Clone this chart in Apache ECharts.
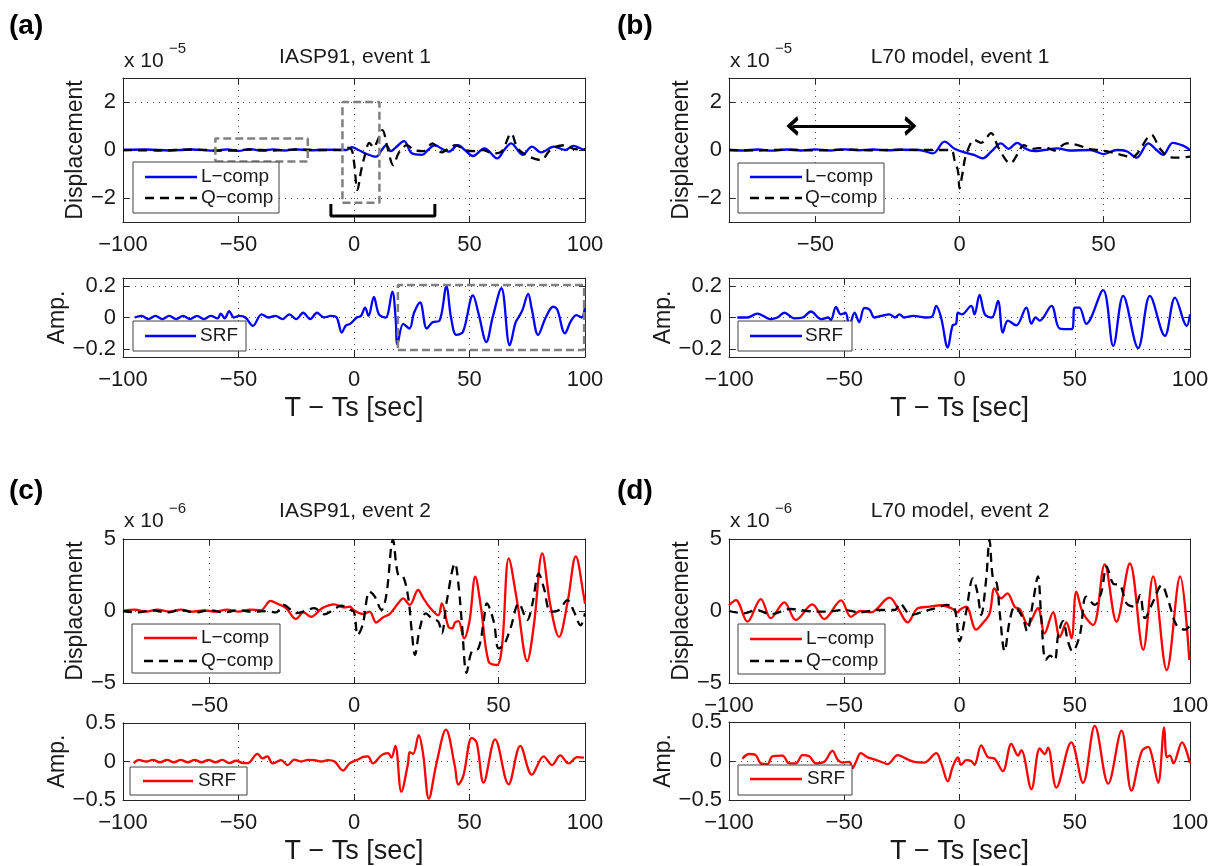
<!DOCTYPE html>
<html>
<head>
<meta charset="utf-8">
<title>SRF waveforms</title>
<script src="https://cdn.jsdelivr.net/npm/echarts@6/dist/echarts.min.js"></script>
<style>
  html, body { margin: 0; padding: 0; background: #fff; }
  #chart { width: 1218px; height: 866px; }
</style>
</head>
<body>
<div id="chart"></div>
<script>
// ---- data: [T - Ts (sec), value] ----
// event 1, displacement in units of 1e-5
const aL = [[-100,0],[-90,0.02],[-80,-0.02],[-70,0.02],[-60,-0.03],[-55,0.03],[-50,-0.04],[-45,0.04],[-40,-0.03],[-35,0.03],[-30,-0.02],[-25,0.03],[-20,-0.01],[-10,0.01],[-3.4,0],[-1,0.12],[2,0],[5,-0.15],[9.6,-0.28],[12,0],[14,0.2],[16,-0.05],[18,0.1],[21.7,0.37],[25,-0.14],[29.5,-0.2],[32,0],[35,0.2],[38,0.05],[41,-0.07],[45,0.2],[48,0],[51.5,-0.25],[56.5,0.07],[62,-0.35],[65,0],[68,0.28],[73,-0.2],[77,0.14],[81,-0.1],[86.5,0.14],[91.5,0],[95,0.17],[99,0.03],[100,0.02]];
const aQ = [[-100,0],[-85,-0.02],[-70,0.02],[-55,-0.03],[-45,0.02],[-35,-0.02],[-25,0.02],[-15,0],[-5,0],[-3,0.1],[-1,0],[0,-0.5],[1.5,-1.67],[3,-0.9],[4.5,-0.3],[6.7,0.3],[8.5,0.1],[10,0.35],[12.3,0.83],[14.5,0.1],[17,-0.63],[19.5,-0.1],[23,0.2],[26,0],[30,-0.05],[34,0.28],[38,-0.1],[40,0],[44,0.2],[48,0],[52,-0.05],[56,0],[60,-0.14],[64,-0.05],[68,0.69],[71,0.05],[76,-0.28],[81,-0.42],[84.5,-0.05],[87.5,0.14],[91.7,0.2],[95,0.05],[100,0.02]];
const aSRF = [[-95,0],[-92,0.01],[-89,-0.01],[-86,0.01],[-83,-0.01],[-80,0.01],[-77,-0.01],[-74,0.01],[-71,-0.01],[-68,0.01],[-65,-0.01],[-62,0.01],[-59,-0.005],[-57.7,0.025],[-56,-0.005],[-54,0.04],[-52,0],[-49.7,0.01],[-47,0],[-43.8,-0.053],[-40,0.02],[-37,0],[-34,0.01],[-31,-0.01],[-28,0.02],[-25,-0.01],[-22,0.03],[-19,-0.01],[-16,0.03],[-13,0],[-10,0.01],[-7.5,0],[-5.3,-0.095],[-3.5,-0.05],[-1.7,-0.04],[1.2,0],[3,0.01],[4.8,0.063],[6.3,0.01],[8.6,0.13],[10.8,0.02],[13.7,0],[16.6,0.164],[18,0],[18.8,-0.17],[21.3,-0.04],[24,-0.07],[26,0.03],[28.6,0.095],[31.5,-0.07],[34,-0.03],[37,-0.02],[40,0.195],[42,0],[44.3,-0.11],[47.2,-0.09],[51.5,0.14],[54,0.02],[57.3,-0.155],[60,0],[63.8,0.185],[67.4,-0.176],[70,-0.03],[71.8,0.015],[73,0.05],[75.4,0.15],[77,0.05],[79.7,-0.11],[83,0],[86.2,0.068],[88,0.05],[91.3,-0.1],[94,-0.02],[96.3,0.015],[98.5,0],[100,0.07]];
const bL = [[-80,0],[-75,-0.02],[-70,0.02],[-65,-0.03],[-60,0.02],[-55,-0.02],[-50,0.03],[-45,-0.02],[-40,0.03],[-35,-0.01],[-30,0.02],[-25,-0.01],[-20,0.01],[-14,0],[-9.2,-0.14],[-5.2,0.35],[-1.7,0.05],[1.7,-0.1],[5,-0.2],[8,-0.35],[11,-0.07],[14.4,0.28],[17,0.05],[20,0.3],[23,0.05],[26,-0.05],[29.3,0],[34,0.07],[38,-0.02],[45.4,0],[50,-0.17],[54.6,0],[58,-0.05],[61.5,-0.32],[65.5,0.28],[68.4,0],[70.7,-0.2],[74,0.3],[77.6,0.18],[80,0]];
const bQ = [[-80,0],[-70,-0.02],[-60,0.02],[-50,-0.02],[-40,0.02],[-30,-0.01],[-20,0.01],[-10,0],[-3,0],[-1.7,-0.42],[-0.5,-0.9],[0,-1.6],[1,-1],[2.3,-0.2],[5.2,0.42],[7.5,0.3],[11,0.7],[13.5,0.1],[17.7,-0.56],[20,-0.2],[22.4,0.2],[25,0.05],[30,0.1],[33,-0.02],[37.2,0.28],[41,0.2],[45,0.05],[48,0],[52,-0.08],[56,-0.2],[60,-0.3],[62,-0.1],[66.6,0.63],[69.6,0.05],[73,-0.3],[75.9,-0.32],[80,-0.28]];
const bSRF = [[-96.4,0],[-92,0],[-87.7,0.025],[-82,-0.01],[-79,0],[-76,0.03],[-71.7,-0.005],[-68,0],[-64.5,0.038],[-60,-0.01],[-57,0],[-55.8,-0.017],[-53.6,0.067],[-51.5,0.02],[-49.5,0.03],[-47.8,-0.05],[-45.5,0.03],[-43.5,-0.03],[-41.3,0.06],[-39,0.05],[-37,0],[-34,0.01],[-30.4,0.02],[-28,0],[-26,0.02],[-24,0],[-20,0.01],[-15,0],[-12,0.005],[-10.1,0.074],[-8,0],[-5.1,-0.19],[-3,-0.05],[-1.5,-0.04],[-0.7,0.03],[1,0.02],[5.1,0.074],[6.5,0.02],[8.7,0.143],[11,0.02],[14,0],[16.7,0.105],[18.8,-0.095],[21,-0.02],[24.6,-0.05],[29,0.063],[31.2,-0.04],[33,0],[34.8,-0.02],[39.9,0.074],[43.5,-0.07],[48.6,-0.074],[50,0.063],[52,0.063],[55,-0.04],[62.3,0.173],[66.7,-0.18],[71,0.137],[77.5,-0.194],[82.6,0.137],[89.1,-0.116],[93.5,0.126],[98.6,-0.053],[100,0.02]];
// event 2, displacement in units of 1e-6
const cL = [[-80,0],[-76,0.1],[-72,-0.05],[-68,0.1],[-64,-0.05],[-60,0.1],[-56,-0.05],[-52,0.05],[-48,-0.05],[-44,0.1],[-40,-0.05],[-36,0.1],[-32.3,0.05],[-28.9,0.7],[-26.5,0.5],[-23.5,0.2],[-20.1,-0.55],[-17.5,-0.1],[-14.9,-0.4],[-11,0.2],[-6.8,0.46],[-3.5,0.25],[-1.5,0.3],[0,0.05],[3.1,-0.2],[5.4,-0.05],[7.7,-0.8],[10,-0.45],[12.4,-0.2],[15.3,0.53],[17,0.88],[19.3,0.42],[22.2,1.46],[24,0.9],[26.3,0.23],[29.2,-0.3],[30.4,0.53],[32.7,-1.1],[34,-1.2],[35,-0.8],[36.2,-0.7],[38.1,-1.9],[40,-0.7],[42,2.38],[44,0.2],[46.6,-3.5],[49.5,-3.75],[51.3,-2.36],[53.6,3.66],[56.5,0.65],[60,-3.47],[62.3,-0.97],[65.2,4],[68,0.4],[71,-1.8],[74,0.65],[76.8,3.8],[79.7,0.9],[80,0.5]];
const cQ = [[-80,0],[-75,-0.1],[-70,0.05],[-65,-0.1],[-60,0.05],[-55,-0.1],[-50,0.05],[-45,-0.1],[-40,0.05],[-35,-0.05],[-30,0],[-27,-0.1],[-24.4,0.42],[-20,-0.15],[-17,0],[-13.8,0.2],[-10.3,-0.23],[-7,0.1],[-4.5,0.37],[-1.5,0.1],[0,-0.07],[1.3,-1.67],[3,-0.97],[5.4,1.35],[7.2,1],[9.5,0.07],[11.2,1.1],[13.5,4.93],[15.3,2.5],[17,2.4],[18.8,0.9],[20,-1.4],[21.1,-3.05],[22.8,-1.2],[24.9,-0.16],[26.9,-0.5],[29.2,-0.74],[30.4,-1.55],[32.1,0.65],[35,3.3],[36.2,1.8],[37.4,-0.97],[39,-4.3],[40.8,-2.8],[43.1,-2.6],[44.9,-0.74],[46,0.53],[48.4,-0.74],[50.1,-2.6],[51.9,-2.36],[54.2,-1.2],[57.1,0.53],[60,-0.63],[61.7,0.42],[64,2.6],[65.8,1.57],[68.1,-0.05],[71,0.07],[73.9,0.76],[76.2,-0.05],[78.5,-1],[80,-0.16]];
const cSRF = [[-95.4,-0.02],[-93,0.02],[-90,0],[-87,0.02],[-84,-0.01],[-81,0.02],[-78,-0.01],[-75,0.02],[-72,-0.01],[-69,0.02],[-66,-0.01],[-63,0.02],[-60,-0.01],[-57,0.02],[-54,-0.02],[-51,0.01],[-48,-0.02],[-46,-0.02],[-41.8,0.1],[-39.6,0.04],[-37.5,0.067],[-35.3,-0.025],[-31.6,0.017],[-28.7,-0.046],[-25.8,0.025],[-22.9,0],[-20,0.02],[-17.1,0.017],[-14.2,0],[-11.3,0.017],[-8.4,0],[-4.8,-0.117],[-1.9,-0.025],[1.7,0.025],[3.9,0.06],[6,0.067],[8.2,-0.025],[11.8,0.079],[14.7,0.108],[16.2,0.05],[17.9,0.204],[20.5,-0.392],[23.4,-0.025],[24.1,0.12],[25.6,0.1],[28,0.342],[29.9,0.1],[32.4,-0.483],[35.7,-0.025],[39.8,0.413],[43.7,-0.067],[45.1,-0.3],[47.3,-0.19],[51,0.308],[53.1,0.246],[56.1,-0.275],[61.1,0.288],[66.9,-0.296],[72,0.204],[77,-0.171],[82.1,0.067],[85.7,-0.046],[89.3,0.079],[92.9,-0.025],[96.6,0.058],[99.5,0.05]];
const dL = [[-100,0.4],[-97,0.76],[-92,-0.74],[-86.2,0.83],[-81.9,-0.5],[-76,0.6],[-71,-0.62],[-63.8,0.46],[-58.7,-0.56],[-51.4,0.74],[-47.1,-0.4],[-43,0],[-38.4,-0.1],[-30.4,0.93],[-26.7,0.19],[-22.5,-0.79],[-18.1,0.19],[-13,0.3],[-8,0.4],[-3.5,0.19],[-0.7,-0.1],[0,0.07],[2.9,0.3],[7.2,-1.3],[10,-0.86],[13,-0.2],[15.2,1.57],[18,0.88],[20.8,1.23],[23.9,0.3],[26.1,0.14],[29.7,-0.93],[34,0.19],[36.9,-1.55],[40.6,-0.09],[43.5,-1.8],[46.4,-0.8],[48.6,-1.9],[50.7,1.34],[53.6,-0.16],[58,-0.97],[63,3.24],[68.1,-0.74],[73.9,3.3],[79.7,-2.7],[84,2.4],[89.9,-4.1],[95.7,2.4],[99.7,-3.4]];
const dQ = [[-100,0],[-93.5,-0.16],[-88,0.07],[-82,-0.23],[-73.2,0.14],[-66,0],[-58,-0.05],[-50,0.07],[-43,-0.1],[-36,0.07],[-28,0.07],[-26,0.53],[-21,-0.28],[-15,0],[-9.4,0.23],[-5.8,0.42],[-2.2,0.19],[0,-2.1],[2.9,-0.05],[5.8,2.27],[7.7,1.34],[9.4,-0.28],[11.6,2.27],[13,4.93],[14.5,2.27],[16.2,1.9],[17.4,-0.05],[19.6,-2.8],[21.7,-0.74],[24,0.3],[27.5,-0.5],[29.3,-1.4],[31.9,0.65],[34,2.4],[35.5,-0.5],[37.4,-3.4],[39.3,-3.1],[41.3,-3.4],[42.8,-1.67],[44.9,-0.7],[47.1,-2.13],[49,-2.8],[52.2,-1.67],[55,1],[58.7,0.42],[61.6,1.34],[63.8,3.1],[66.7,1.9],[69.6,1.8],[72.5,0.53],[76,0.3],[78.3,1.1],[80.4,-0.5],[84,0.65],[87.7,1.8],[90.7,0.65],[94.2,-1],[97.8,-1.3],[99.7,-1.08]];
const dSRF = [[-94.2,0.03],[-91.3,0.09],[-88.4,0.075],[-86.2,-0.03],[-83.3,-0.04],[-81.2,0.06],[-76.8,0.07],[-73.9,-0.03],[-71,-0.03],[-68.1,0.075],[-65.2,0.06],[-62.3,-0.03],[-58.7,-0.01],[-55.1,0.13],[-52.9,0.02],[-50.7,-0.02],[-47.8,-0.01],[-46.4,-0.09],[-44.9,-0.01],[-42.8,0.1],[-40,0.05],[-37,0.02],[-34.1,-0.01],[-31.2,-0.04],[-26.8,0.075],[-23.2,0.03],[-19.6,-0.01],[-15.2,-0.02],[-10.1,0.1],[-7.9,-0.03],[-5.1,-0.26],[-2.9,-0.07],[-0.7,0.045],[0.7,-0.05],[2.9,0.01],[5.1,0],[6.5,-0.05],[9.4,0.2],[12.3,0.05],[15.2,0.03],[18.8,-0.13],[22.5,0.22],[25.4,0.07],[26.8,0.14],[31.2,-0.36],[34.8,0.16],[37,0.09],[38.4,0.17],[42,-0.34],[48.5,0.24],[53.6,-0.28],[58.7,0.45],[64.5,-0.29],[70.3,0.39],[74.6,-0.38],[79,0.12],[81.9,0.18],[83.3,0.09],[86.2,-0.28],[88.8,0.43],[89.9,0.05],[91.3,0.07],[92.8,-0.03],[96.5,0.24],[100,-0.03]];

// axis ranges and tick labels
const xRange100 = [-100, 100];
const xRange80 = [-80, 80];
const xTicks100 = [-100, -50, 0, 50, 100];
const xTicks80 = [-50, 0, 50];
const yRangeDisp1 = [-3, 3];
const yTicksDisp1 = [-2, 0, 2];
const yRangeAmp1 = [-0.25, 0.25];
const yTicksAmp1 = [-0.2, 0, 0.2];
const yRangeDisp2 = [-5, 5];
const yTicksDisp2 = [-5, 0, 5];
const yRangeAmp2 = [-0.5, 0.5];
const yTicksAmp2 = [-0.5, 0, 0.5];

// annotations (data coordinates)
const boxNoise = [[-60,-0.48],[-20,-0.48],[-20,0.48],[-60,0.48],[-60,-0.48]];
const boxArrival = [[-5,-2.2],[11,-2.2],[11,2],[-5,2],[-5,-2.2]];
const bracket = [[-10,-2.25],[-10,-2.75],[35,-2.75],[35,-2.25]];
const boxSRF = [[19,-0.205],[99.6,-0.205],[99.6,0.205],[19,0.205],[19,-0.205]];
const arrowSpan = [-58, -17, 1];

const FONT = '"Liberation Sans", Arial, Helvetica, sans-serif';
const TXT = '#1a1a1a';
const BLUE = '#0000ff';
const RED = '#ff0000';
const DASH = [9, 6];

const chart = echarts.init(document.getElementById('chart'));

// one entry per axes box
const panels = [
  { box: { left: 123, top: 78, width: 462, height: 144 }, x: xRange100, xt: xTicks100, y: yRangeDisp1, yt: yTicksDisp1, yname: 'Displacement', ygap: 24 },
  { box: { left: 123, top: 278, width: 462, height: 79 }, x: xRange100, xt: xTicks100, y: yRangeAmp1, yt: yTicksAmp1, yname: 'Amp.', ygap: 42, xname: true },
  { box: { left: 729, top: 78, width: 461, height: 144 }, x: xRange80, xt: xTicks80, y: yRangeDisp1, yt: yTicksDisp1, yname: 'Displacement', ygap: 24 },
  { box: { left: 729, top: 278, width: 461, height: 79 }, x: xRange100, xt: xTicks100, y: yRangeAmp1, yt: yTicksAmp1, yname: 'Amp.', ygap: 42, xname: true },
  { box: { left: 123, top: 539, width: 462, height: 144 }, x: xRange80, xt: xTicks80, y: yRangeDisp2, yt: yTicksDisp2, yname: 'Displacement', ygap: 24 },
  { box: { left: 123, top: 723, width: 462, height: 80 }, x: xRange100, xt: xTicks100, y: yRangeAmp2, yt: yTicksAmp2, yname: 'Amp.', ygap: 42, xname: true },
  { box: { left: 729, top: 539, width: 461, height: 144 }, x: xRange100, xt: xTicks100, y: yRangeDisp2, yt: yTicksDisp2, yname: 'Displacement', ygap: 24 },
  { box: { left: 729, top: 722, width: 461, height: 81 }, x: xRange100, xt: xTicks100, y: yRangeAmp2, yt: yTicksAmp2, yname: 'Amp.', ygap: 42, xname: true }
];

const fmt = v => String(v).replace('-', '\u2212');
const frame = { show: true, onZero: false, lineStyle: { color: '#262626', width: 1 } };
const tick = vals => ({ show: true, inside: true, length: 6, customValues: vals, lineStyle: { color: '#262626' } });
const grid = { show: true, lineStyle: { color: '#505050', type: [1, 5], width: 1 } };

const grids = [], xAxes = [], yAxes = [];
panels.forEach((p, i) => {
  grids.push(Object.assign({ containLabel: false }, p.box));
  xAxes.push({
    gridIndex: i, type: 'value', min: p.x[0], max: p.x[1], position: 'bottom',
    axisLine: frame, axisTick: tick(p.xt), splitLine: grid,
    axisLabel: { customValues: p.xt, formatter: fmt, fontSize: 22, color: TXT, fontFamily: FONT, margin: 12 },
    name: p.xname ? 'T \u2212 Ts [sec]' : '', nameLocation: 'middle', nameGap: 38,
    nameTextStyle: { fontSize: 27, color: TXT, fontFamily: FONT }
  });
  xAxes.push({
    gridIndex: i, type: 'value', min: p.x[0], max: p.x[1], position: 'top',
    axisLine: frame, axisTick: tick(p.xt), axisLabel: { show: false }, splitLine: { show: false }
  });
  yAxes.push({
    gridIndex: i, type: 'value', min: p.y[0], max: p.y[1], position: 'left',
    axisLine: frame, axisTick: tick(p.yt), splitLine: grid,
    axisLabel: { customValues: p.yt, formatter: fmt, fontSize: 22, color: TXT, fontFamily: FONT, margin: 7 },
    name: p.yname, nameLocation: 'middle', nameRotate: 90, nameGap: p.ygap,
    nameTextStyle: { fontSize: 23, color: TXT, fontFamily: FONT }
  });
  yAxes.push({
    gridIndex: i, type: 'value', min: p.y[0], max: p.y[1], position: 'right',
    axisLine: frame, axisTick: tick(p.yt), axisLabel: { show: false }, splitLine: { show: false }
  });
});

function wave(i, data, color, dashed) {
  return {
    type: 'line', xAxisIndex: 2 * i, yAxisIndex: 2 * i, data: data,
    showSymbol: false, symbol: 'none', smooth: 0.35, silent: true,
    lineStyle: { color: color, width: 2.3, type: dashed ? DASH : 'solid' }, z: 3
  };
}
function outline(i, data, color, width, dash) {
  return {
    type: 'line', xAxisIndex: 2 * i, yAxisIndex: 2 * i, data: data,
    showSymbol: false, symbol: 'none', smooth: false, silent: true,
    lineStyle: { color: color, width: width, type: dash || 'solid' }, z: 4
  };
}

const chevron = 'path://M5,0 L10,9 L8,10 L5,4.5 L2,10 L0,9 Z';

const series = [
  wave(0, aL, BLUE), wave(0, aQ, '#000', true),
  wave(1, aSRF, BLUE),
  wave(2, bL, BLUE), wave(2, bQ, '#000', true),
  wave(3, bSRF, BLUE),
  wave(4, cL, RED), wave(4, cQ, '#000', true),
  wave(5, cSRF, RED),
  wave(6, dL, RED), wave(6, dQ, '#000', true),
  wave(7, dSRF, RED),
  outline(0, boxNoise, '#808080', 2.5, [8, 4]),
  outline(0, boxArrival, '#808080', 2.5, [8, 4]),
  outline(0, bracket, '#000', 3),
  outline(1, boxSRF, '#808080', 2.5, [8, 4]),
  {
    type: 'line', xAxisIndex: 4, yAxisIndex: 4, data: [], silent: true,
    markLine: {
      silent: true, symbol: [chevron, chevron], symbolSize: [20, 12],
      label: { show: false }, animation: false,
      lineStyle: { color: '#000', width: 3, type: 'solid' },
      data: [[{ coord: [arrowSpan[0], arrowSpan[2]] }, { coord: [arrowSpan[1], arrowSpan[2]] }]]
    }
  }
];

// text and legends drawn as graphics
const g = [];
function txt(x, y, s, size, opts) {
  g.push({
    type: 'text', x: x, y: y, z: 100,
    style: Object.assign({ text: s, fontSize: size, fontFamily: FONT, fill: TXT, align: 'left', verticalAlign: 'middle' }, opts || {})
  });
}
function legend(x, y, w, h, lx1, lx2, tx, items) {
  g.push({ type: 'rect', z: 100, shape: { x: x, y: y, width: w, height: h }, style: { fill: '#fff', stroke: '#404040', lineWidth: 1 } });
  items.forEach(it => {
    g.push({ type: 'line', z: 101, shape: { x1: lx1, y1: it.y, x2: lx2, y2: it.y },
      style: { stroke: it.color, lineWidth: 2.3, lineDash: it.dash ? DASH : null } });
    txt(tx, it.y, it.name, 19);
  });
}

// panel letters
txt(9, 26, '(a)', 28, { fontWeight: 'bold', fill: '#000' });
txt(617, 26, '(b)', 28, { fontWeight: 'bold', fill: '#000' });
txt(9, 491, '(c)', 28, { fontWeight: 'bold', fill: '#000' });
txt(617, 491, '(d)', 28, { fontWeight: 'bold', fill: '#000' });
// titles
txt(355, 57, 'IASP91, event 1', 21, { align: 'center' });
txt(960, 57, 'L70 model, event 1', 21, { align: 'center' });
txt(355, 511, 'IASP91, event 2', 21, { align: 'center' });
txt(960, 511, 'L70 model, event 2', 21, { align: 'center' });
// exponent labels
[[124, 61, '\u22125'], [730, 61, '\u22125'], [124, 521, '\u22126'], [730, 521, '\u22126']].forEach(e => {
  txt(e[0], e[1], 'x 10', 21);
  txt(e[0] + 45, e[1] - 12, e[2], 15);
});

legend(133, 162, 146, 51, 145, 197, 201, [{ y: 177, name: 'L\u2212comp', color: BLUE }, { y: 198, name: 'Q\u2212comp', color: '#000', dash: true }]);
legend(133, 321, 113, 30, 145, 196, 200, [{ y: 336, name: 'SRF', color: BLUE }]);
legend(738, 163, 146, 50, 750, 802, 805, [{ y: 177, name: 'L\u2212comp', color: BLUE }, { y: 198, name: 'Q\u2212comp', color: '#000', dash: true }]);
legend(738, 321, 114, 30, 750, 802, 805, [{ y: 336, name: 'SRF', color: BLUE }]);
legend(132, 624, 148, 49, 144, 197, 201, [{ y: 638, name: 'L\u2212comp', color: RED }, { y: 661, name: 'Q\u2212comp', color: '#000', dash: true }]);
legend(130, 767, 117, 28, 143, 193, 198, [{ y: 781, name: 'SRF', color: RED }]);
legend(738, 624, 147, 50, 750, 802, 806, [{ y: 639, name: 'L\u2212comp', color: RED }, { y: 661, name: 'Q\u2212comp', color: '#000', dash: true }]);
legend(738, 765, 114, 30, 750, 802, 807, [{ y: 779, name: 'SRF', color: RED }]);

chart.setOption({
  animation: false,
  backgroundColor: '#fff',
  grid: grids,
  xAxis: xAxes,
  yAxis: yAxes,
  series: series,
  graphic: { elements: g }
});
</script>
</body>
</html>
